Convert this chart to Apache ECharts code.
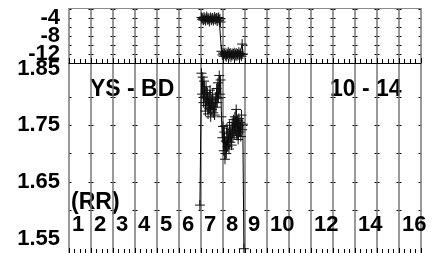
<!DOCTYPE html>
<html>
<head>
  <meta charset="UTF-8">
  <title>YS - BD</title>
  <style>
  body {
    margin: 0;
    background: #fff;
  }
  #chart {
    width: 440px;
    height: 253px;
  }
  </style>
  <script src="https://cdn.jsdelivr.net/npm/echarts@6/dist/echarts.min.js"></script>
</head>
<body>
  <div id="chart"></div>
  <script type="text/javascript">
  // time of each sample (x axis)
  var times = [6.95, 7.02, 7.05, 7.08, 7.11, 7.14, 7.17, 7.20, 7.23, 7.26, 7.29, 7.32, 7.35, 7.38, 7.41, 7.44,
    7.47, 7.50, 7.53, 7.56, 7.59, 7.62, 7.65, 7.68, 7.71, 7.74, 7.77, 7.80, 7.83, 7.86, 7.89,
    7.93, 7.97, 8.00, 8.03, 8.06, 8.09, 8.12, 8.15, 8.18, 8.21, 8.24, 8.27, 8.30, 8.33, 8.36, 8.39,
    8.42, 8.45, 8.48, 8.51, 8.54, 8.57, 8.60, 8.63, 8.66, 8.69, 8.72, 8.75, 8.78, 8.81, 8.84, 8.87, 8.90, 8.95];

  // upper panel
  var topValues = [null, -3.9, -4.3, -4.0, -4.5, -3.8, -4.2, -4.6, -4.1, -3.7, -4.4, -4.0, -4.3, -4.8, -4.1, -3.9,
    -4.5, -4.2, -4.0, -4.6, -4.3, -3.8, -4.2, -4.4, -4.0, -4.7, -4.1, -3.9, -4.5, -4.2, -4.9,
    -11.4, -12.2, -11.8, -12.5, -12.0, -11.7, -12.3, -12.6, -11.9, -12.1, -11.6, -12.4, -12.0, -11.8, -12.7, -12.2,
    -11.9, -12.3, -12.0, -11.7, -12.5, -12.1, -11.8, -12.4, -12.0, -12.2, -11.6, -12.3, -11.9, -12.1, -12.5, -9.8, -12.0, null];

  // lower panel (RR)
  var rrValues = [1.609, 1.842, 1.805, 1.835, 1.790, 1.828, 1.800, 1.775, 1.818, 1.785, 1.808, 1.770, 1.798, 1.780, 1.812, 1.765,
    1.795, 1.778, 1.805, 1.772, 1.790, 1.768, 1.800, 1.782, 1.815, 1.790, 1.825, 1.798, 1.838, 1.805, 1.830,
    1.765, 1.728, 1.748, 1.705, 1.738, 1.690, 1.722, 1.700, 1.745, 1.712, 1.735, 1.708, 1.750, 1.720, 1.742, 1.715,
    1.755, 1.728, 1.760, 1.735, 1.765, 1.740, 1.778, 1.732, 1.758, 1.725, 1.762, 1.738, 1.755, 1.730, 1.768, 1.742, 1.752, 1.532];

  var topLabels = [-4, -8, -12];
  var rrLabels = [1.55, 1.65, 1.75, 1.85];
  var rrTicks = [1.55, 1.60, 1.65, 1.70, 1.75, 1.80, 1.85];

  var FONT = '"Liberation Sans", Arial, sans-serif';
  var cross = 'path://M0,4L8,4M4,0L4,8';

  function pairs(vals) {
    return times.map(function(t, i) { return [t, vals[i]]; });
  }

  var myChart = echarts.init(document.getElementById('chart'), null, { renderer: 'canvas' });

  var gridLine = { show: true, lineStyle: { color: '#777', width: 1.5 } };
  var dashLine = { show: true, showMinLine: false, showMaxLine: false,
    lineStyle: { color: '#000', width: 1, type: [5, 17], dashOffset: 2.5 } };

  var option = {
    animation: false,
    grid: [
      { left: 69, top: 8, width: 352, height: 55 },
      { left: 69, top: 63, width: 352, height: 190 }
    ],
    xAxis: [{
      gridIndex: 0, type: 'value', min: 1, max: 17, interval: 1, position: 'bottom',
      axisLine: { show: true, lineStyle: { color: '#000', width: 1 } },
      axisTick: { show: true, inside: true, length: 5, lineStyle: { color: '#000' } },
      minorTick: { show: true, splitNumber: 4, length: 4, lineStyle: { color: '#000' } },
      axisLabel: { show: false },
      splitLine: gridLine
    }, {
      gridIndex: 0, type: 'value', min: 1, max: 17, interval: 1, position: 'top',
      axisLine: { show: true, lineStyle: { color: '#8a8a8a', width: 1 } },
      axisTick: { show: false },
      axisLabel: { show: false },
      splitLine: { show: false }
    }, {
      gridIndex: 1, type: 'value', min: 1, max: 17, interval: 1, position: 'bottom',
      axisLine: { show: true, lineStyle: { color: '#000', width: 1 } },
      axisTick: { show: true, inside: true, length: 5, lineStyle: { color: '#000' } },
      minorTick: { show: true, splitNumber: 4, length: 4, lineStyle: { color: '#000' } },
      axisLabel: {
        inside: true, interval: 0, margin: 17, align: 'left', padding: [0, 0, 0, 3],
        fontFamily: FONT, fontWeight: 'bold', fontSize: 22, color: '#000',
        formatter: function(v) {
          return (v < 17 && (v <= 10 || v % 2 === 0)) ? String(v) : '';
        }
      },
      splitLine: gridLine
    }],
    yAxis: [{
      gridIndex: 0, type: 'value', min: -14, max: -1.8, interval: 2,
      axisLine: { show: false },
      axisTick: { show: false },
      axisLabel: {
        margin: 9, padding: [5, 0, 0, 0], fontFamily: FONT, fontWeight: 'bold', fontSize: 22, color: '#000',
        formatter: function(v) { return topLabels.indexOf(v) >= 0 ? String(v) : ''; }
      },
      splitLine: dashLine
    }, {
      gridIndex: 1, type: 'value', min: 1.5244, max: 1.86,
      axisLine: { show: false },
      axisTick: { show: false, customValues: rrTicks },
      axisLabel: {
        margin: 9, padding: [3, 0, 0, 0], fontFamily: FONT, fontWeight: 'bold', fontSize: 22, color: '#000',
        customValues: rrLabels,
        formatter: function(v) { return v.toFixed(2); }
      },
      splitLine: dashLine
    }],
    graphic: [
      { type: 'text', left: 90, top: 78, style: { text: 'YS - BD', font: 'bold 23px ' + FONT, fill: '#000' } },
      { type: 'text', left: 330, top: 78, style: { text: '10 - 14', font: 'bold 23px ' + FONT, fill: '#000' } },
      { type: 'text', left: 71, top: 191, style: { text: '(RR)', font: 'bold 23px ' + FONT, fill: '#000' } }
    ],
    series: [{
      type: 'line', xAxisIndex: 0, yAxisIndex: 0,
      data: pairs(topValues),
      symbol: cross, symbolSize: 10,
      itemStyle: { color: 'transparent', borderColor: '#111', borderWidth: 1 },
      lineStyle: { color: '#000', width: 1 },
      clip: true
    }, {
      type: 'line', xAxisIndex: 2, yAxisIndex: 1,
      data: pairs(rrValues),
      symbol: cross, symbolSize: 10,
      itemStyle: { color: 'transparent', borderColor: '#111', borderWidth: 1 },
      lineStyle: { color: '#000', width: 1 },
      clip: true
    }]
  };
  myChart.setOption(option);
  </script>
</body>
</html>
